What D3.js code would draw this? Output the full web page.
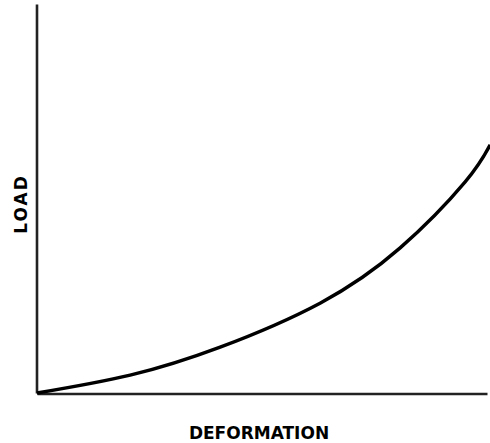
<!DOCTYPE html>
<html>
<head>
<meta charset="utf-8">
<script src="https://cdn.jsdelivr.net/npm/d3@7"></script>
<style>
  body { margin: 0; background: #fff; }
  text { font-family: "DejaVu Sans", Verdana, sans-serif; font-weight: bold; }
</style>
</head>
<body>
<svg id="chart"></svg>
<script>
// values (arbitrary units, 0..100 on both axes)
const deformation = [0, 20.7, 40.7, 62.9, 80.7, 95.1, 100.7];
const load = [0, 4.6, 11.8, 23.1, 37.3, 54.2, 63.8];
const xLabel = 'DEFORMATION';
const yLabel = 'LOAD';

const width = 490;
const height = 443;
const margin = { top: 4, right: 3, bottom: 50, left: 37 };

const svg = d3.select('#chart').
  attr('width', width).
  attr('height', height);

const x = d3.scaleLinear().
  domain([0, 100]).
  range([margin.left, width - margin.right]);

const y = d3.scaleLinear().
  domain([0, 100]).
  range([height - margin.bottom, margin.top]);

const points = deformation.map((d, i) => ({ x: d, y: load[i] }));

// plain axes, no ticks
svg.append('g').
  attr('transform', `translate(${margin.left - 0.5},0)`).
  call(d3.axisLeft(y).ticks(0).tickSizeOuter(0)).
  call(g => g.select('.domain').attr('stroke', '#222').attr('stroke-width', 2.6));

svg.append('g').
  attr('transform', `translate(0,${height - margin.bottom + 0.5})`).
  call(d3.axisBottom(x).ticks(0).tickSizeOuter(0)).
  call(g => g.select('.domain').attr('stroke', '#222').attr('stroke-width', 2.6));

const line = d3.line().
  x(d => x(d.x)).
  y(d => y(d.y)).
  curve(d3.curveNatural);

svg.append('path').
  datum(points).
  attr('d', line).
  attr('fill', 'none').
  attr('stroke', '#000').
  attr('stroke-width', 3.4);

svg.append('text').
  attr('x', 259).
  attr('y', 439).
  attr('text-anchor', 'middle').
  style('font-size', '17px').
  text(xLabel);

svg.append('text').
  attr('transform', 'translate(27,204) rotate(-90)').
  attr('text-anchor', 'middle').
  style('font-size', '17px').
  style('letter-spacing', '2px').
  text(yLabel);
</script>
</body>
</html>
